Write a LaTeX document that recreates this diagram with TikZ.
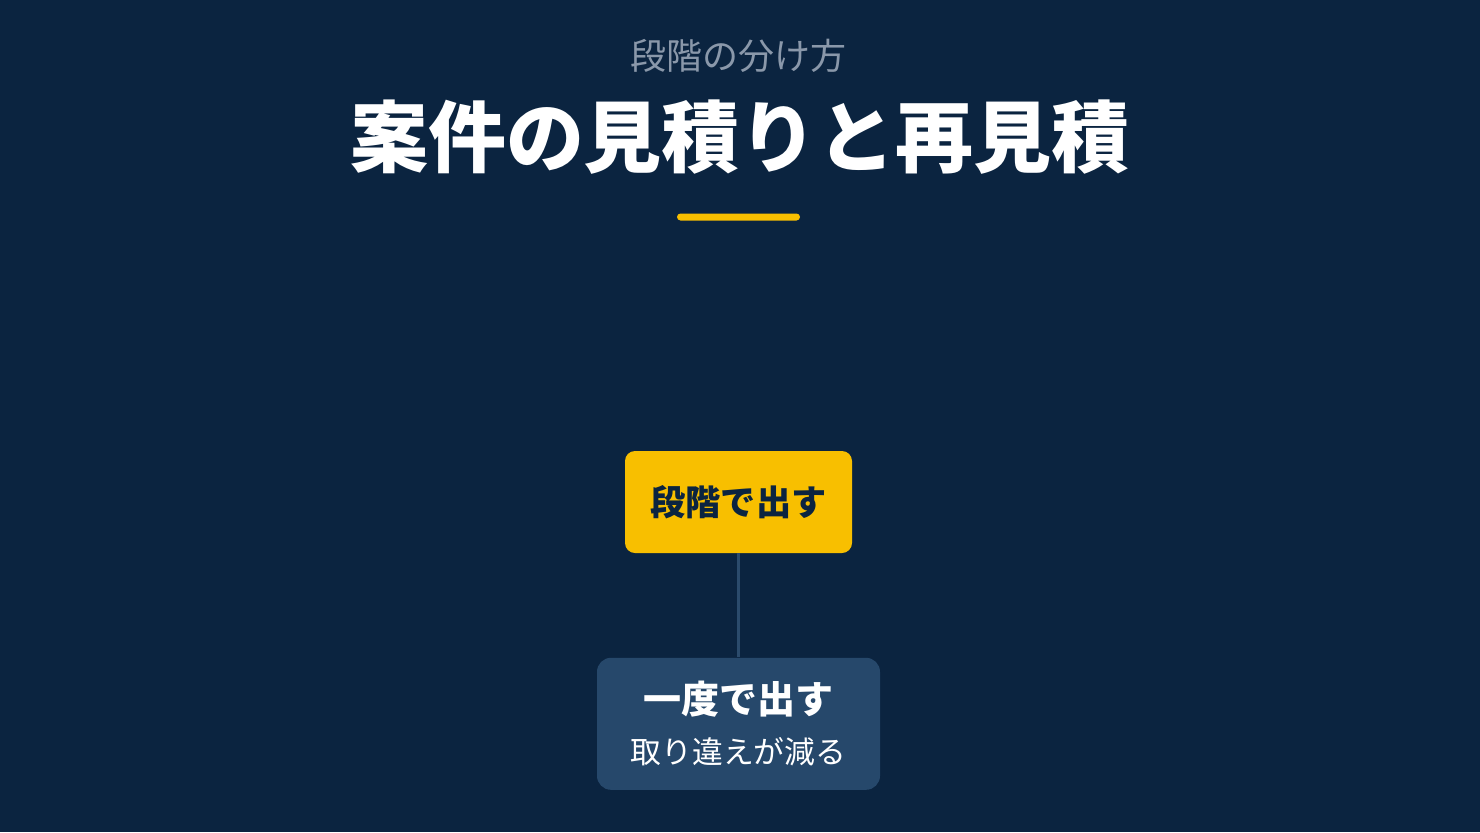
\documentclass[tikz,border=0pt]{standalone}
\usepackage{fontspec}
\setmainfont{Noto Sans CJK JP}
\usetikzlibrary{positioning}
\definecolor{bgnavy}{HTML}{0B2440}
\definecolor{stageyellow}{HTML}{F8BF00}
\definecolor{softgray}{HTML}{8A98AA}
\definecolor{panelblue}{HTML}{26486B}
\definecolor{linkblue}{HTML}{2B4B6C}
\tikzset{subtitle/.style={text=softgray, font=\fontsize{18pt}{22pt}\selectfont}}
\tikzset{headline/.style={text=white, font=\bfseries\fontsize{39pt}{45pt}\selectfont}}
\tikzset{rulebar/.style={fill=stageyellow, rounded corners=1.75pt, minimum width=61.5pt, minimum height=3.5pt, inner sep=0pt}}
\tikzset{stagebox/.style={fill=stageyellow, text=bgnavy, rounded corners=5pt, minimum width=113.5pt, minimum height=51pt, inner sep=0pt, font=\bfseries\fontsize{17.6pt}{20pt}\selectfont}}
\tikzset{panelbox/.style={fill=panelblue, text=white, rounded corners=7pt, minimum width=141.5pt, minimum height=66pt, inner sep=0pt, align=center}}
\tikzset{link/.style={draw=linkblue, line width=1.5pt}}

\begin{document}
\begin{tikzpicture}[x=0.5pt, y=-0.5pt]
	\fill[bgnavy] (0,0) rectangle (1480,832);
	\useasboundingbox (0,0) rectangle (1480,832);
	\node[subtitle] (sub) at (738,56) {段階の分け方};
	\node[headline] (ttl) at (740,137) {案件の見積りと再見積};
	\node[rulebar] (bar) at (738.5,217) {};
	\node[stagebox] (stage) at (738.5,502) {段階で出す};
	\node[panelbox, below=52pt of stage] (once)
		{{\bfseries\fontsize{19pt}{22pt}\selectfont 一度で出す}\\[9pt]
		 {\fontsize{15.4pt}{18pt}\selectfont 取り違えが減る}};
	\draw[link] (stage) -- (once);
\end{tikzpicture}
\end{document}
